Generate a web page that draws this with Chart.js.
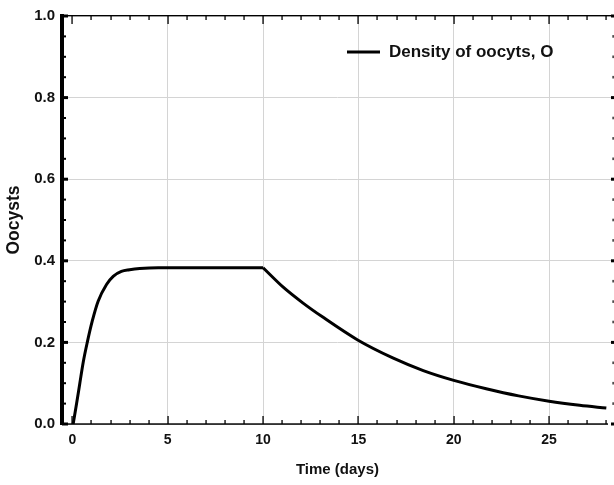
<!DOCTYPE html>
<html>
<head>
<meta charset="utf-8">
<script src="https://cdn.jsdelivr.net/npm/chart.js@4.4.1/dist/chart.umd.min.js"></script>
<style>
  body { margin: 0; background: #fff; }
  canvas { display: block; }
</style>
</head>
<body>
<canvas id="canvas" width="614" height="485"></canvas>
<script>
// oocyst density: build-up phase (day 0-10) and decay phase (day 10-28)
var riseDays = [0.04, 0.22, 0.39, 0.57, 0.78, 1.04, 1.35, 1.79, 2.14, 2.57, 3.0, 3.53, 4.5, 6, 8, 10];
var riseValues = [0, 0.05, 0.10, 0.152, 0.2, 0.252, 0.301, 0.342, 0.362, 0.374, 0.378, 0.381, 0.383, 0.383, 0.383, 0.383];
var decayDays = [10, 11.04, 12.08, 13.13, 14.96, 16.8, 18.4, 20, 21.7, 23.4, 25, 26.6, 28];
var decayValues = [0.383, 0.336, 0.297, 0.262, 0.206, 0.162, 0.131, 0.107, 0.0865, 0.069, 0.056, 0.046, 0.039];
var xTicks = [0, 5, 10, 15, 20, 25];
var yTicks = [0, 0.2, 0.4, 0.6, 0.8, 1.0];
var seriesLabel = 'Density of oocyts, O';
var xTitle = 'Time (days)';
var yTitle = 'Oocysts';

var FONT = '"Liberation Sans", Arial, sans-serif';

// frame, ticks, axis titles and legend in the old plotting style
var framePlugin = {
    id: 'frame',
    afterDatasetsDraw: function (chart) {
        var ctx = chart.ctx;
        var a = chart.chartArea;
        var xs = chart.scales.x;
        var ys = chart.scales.y;
        ctx.save();
        ctx.fillStyle = '#000';

        // top and bottom lines
        ctx.fillRect(a.left, a.top - 1, a.right - a.left, 1.4);
        ctx.fillRect(a.left, a.bottom - 0.7, a.right - a.left - 5, 1.5);

        // x ticks, inward on both sides
        for (var d = 0; d <= 28; d++) {
            var px = Math.round(xs.getPixelForValue(d));
            var len = d % 5 === 0 ? 8 : 4;
            ctx.fillRect(px - 0.6, a.bottom - len, 1.3, len);
            ctx.fillRect(px - 0.6, a.top, 1.3, len);
        }

        // thick left axis
        ctx.fillRect(a.left - 2, a.top - 2, 4, a.bottom - a.top + 3);

        // y ticks, left and right
        for (var i = 0; i <= 20; i++) {
            var v = i * 0.05;
            var py = ys.getPixelForValue(v);
            if (i % 4 === 0) {
                ctx.fillRect(a.left, py - 1.5, 6, 3);
                ctx.fillRect(a.right - 2, py - 1.5, 3, 3);
            } else {
                ctx.fillRect(a.left, py - 1, 4, 2);
                ctx.fillRect(a.right - 0.5, py - 1.3, 1.2, 2.6);
            }
        }

        // axis titles
        ctx.fillStyle = '#111';
        ctx.textAlign = 'center';
        ctx.textBaseline = 'middle';
        ctx.font = 'bold 15px ' + FONT;
        ctx.fillText(xTitle, (a.left + a.right) / 2, 470);
        ctx.save();
        ctx.translate(14, (a.top + a.bottom) / 2);
        ctx.rotate(-Math.PI / 2);
        ctx.font = 'bold 17.5px ' + FONT;
        ctx.fillText(yTitle, 0, 0);
        ctx.restore();

        // legend
        var ds = chart.data.datasets[0];
        ctx.strokeStyle = ds.borderColor;
        ctx.lineWidth = 3;
        ctx.beginPath();
        ctx.moveTo(347, 52);
        ctx.lineTo(380, 52);
        ctx.stroke();
        ctx.textAlign = 'left';
        ctx.font = 'bold 17px ' + FONT;
        ctx.fillText(ds.label, 389, 52);

        ctx.restore();
    }
};

function toPoints(xs, ys) {
    return xs.map(function (x, i) { return { x: x, y: ys[i] }; });
}

var lineStyle = {
    borderColor: '#000',
    borderWidth: 3,
    pointRadius: 0,
    fill: false,
    cubicInterpolationMode: 'monotone'
};

var ctx = document.getElementById('canvas').getContext('2d');
var chart = new Chart(ctx, {
    type: 'line',
    data: {
        datasets: [
            Object.assign({ label: seriesLabel, data: toPoints(riseDays, riseValues) }, lineStyle),
            Object.assign({ label: seriesLabel, data: toPoints(decayDays, decayValues) }, lineStyle)
        ]
    },
    options: {
        responsive: false,
        animation: false,
        devicePixelRatio: 1,
        layout: { padding: { top: 12, right: 1, left: 0, bottom: 0 } },
        plugins: {
            legend: { display: false },
            tooltip: { enabled: false }
        },
        scales: {
            x: {
                type: 'linear',
                min: -0.545,
                max: 28.35,
                afterBuildTicks: function (scale) {
                    scale.ticks = xTicks.map(function (v) { return { value: v }; });
                },
                afterFit: function (scale) { scale.height = 61; },
                border: { display: false },
                grid: {
                    drawTicks: false,
                    lineWidth: 1,
                    color: function (c) { return c.tick && c.tick.value === 0 ? 'rgba(0,0,0,0)' : '#d4d4d4'; }
                },
                ticks: {
                    padding: 8,
                    color: '#111',
                    font: { family: FONT, size: 14, weight: 'bold' },
                    maxRotation: 0,
                    callback: function (v) { return String(v); }
                }
            },
            y: {
                min: 0,
                max: 1,
                afterBuildTicks: function (scale) {
                    scale.ticks = yTicks.map(function (v) { return { value: v }; });
                },
                afterFit: function (scale) { scale.width = 62; },
                border: { display: false },
                grid: {
                    drawTicks: false,
                    lineWidth: 1,
                    color: function (c) {
                        var v = c.tick ? c.tick.value : 0;
                        return (v === 0 || v === 1) ? 'rgba(0,0,0,0)' : '#d4d4d4';
                    }
                },
                ticks: {
                    padding: 7,
                    color: '#111',
                    font: { family: FONT, size: 15, weight: 'bold' },
                    callback: function (v) { return v.toFixed(1); }
                }
            }
        }
    },
    plugins: [framePlugin]
});
</script>
</body>
</html>
